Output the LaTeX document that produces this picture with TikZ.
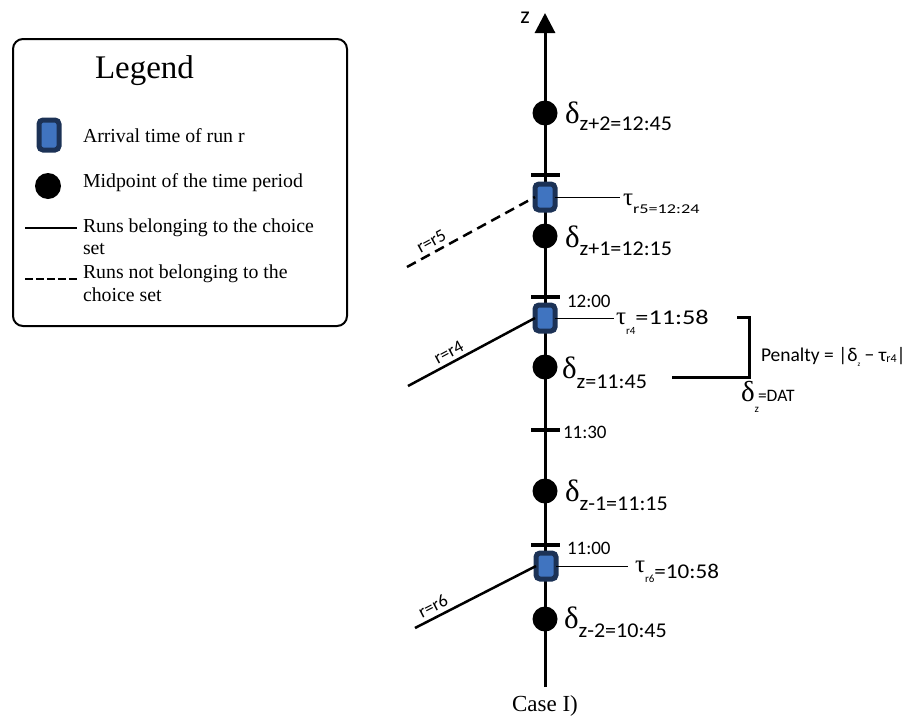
\documentclass[tikz,border=0pt]{standalone}
\usepackage{fontspec}
\setmainfont{Liberation Serif}
\setsansfont{Carlito}
\usetikzlibrary{arrows.meta}

\definecolor{runnavy}{RGB}{28,50,86}
\definecolor{runblue}{RGB}{64,116,192}

\newcommand\fsz[1]{\fontsize{#1}{#1}\selectfont}
\newcommand\bigdelta{{\rmfamily\fsz{31}δ}}
\newcommand\bigtau{{\rmfamily\fsz{25}τ}}
\newcommand\hx[2]{\scalebox{#1}[1]{#2}}

\begin{document}
\begin{tikzpicture}[x=1pt,y=-1pt,
  every node/.style={inner sep=0pt, outer sep=0pt},
  middot/.style={circle, fill=black, minimum size=25pt},
  runbox/.style={draw=runnavy, fill=runblue, line width=5pt, rounded corners=4pt,
                 minimum width=20pt, minimum height=26pt},
  tickbar/.style={fill=black, minimum width=29pt, minimum height=4pt},
  axisline/.style={line width=3pt},
  runline/.style={line width=2.5pt},
  tauline/.style={line width=1pt},
  lbl/.style={font=\sffamily, anchor=base west},
  runlbl/.style={font=\sffamily\fsz{18}, sloped, above=5pt},
  legtext/.style={font=\fsz{19.8}, anchor=base west},
]
\useasboundingbox (0,0) rectangle (910,718);

% ---------- legend ----------
\node[draw, line width=2pt, rounded corners=10pt, minimum width=334pt,
      minimum height=287pt] (legend) at (180,182.5) {};
\node[anchor=base west, font=\fsz{33}] (legtitle) at (95,78) {Legend};
\node[runbox, minimum height=30pt] (legbox) at (49,135) {};
\node[legtext] (legarr) at (83,142) {Arrival time of run r};
\node[middot, minimum size=26pt] (legdot) at (48,186) {};
\node[legtext] (legmid) at (83,187) {Midpoint of the time period};
\coordinate (lsA) at (25,228);
\coordinate (lsB) at (77,228);
\draw[runline] (lsA) -- (lsB);
\node[legtext] (legin1) at (83,232) {Runs belonging to the choice};
\node[legtext] (legin2) at (83,254) {set};
\coordinate (ldA) at (25,279);
\coordinate (ldB) at (77,279);
\draw[runline, dash pattern=on 8pt off 3pt] (ldA) -- (ldB);
\node[legtext] (legout1) at (83,278) {Runs not belonging to the};
\node[legtext] (legout2) at (83,301) {choice set};

% ---------- time axis ----------
\coordinate (axbot) at (545,687);
\coordinate (axtop) at (545,13);
\draw[axisline, -{Triangle[width=20pt,length=20pt]}] (axbot) -- (axtop);
\node[font=\sffamily\fsz{24}] (zlab) at (525,18) {z};

% period boundaries
\node[tickbar] (t1) at (545,175) {};
\node[tickbar] (t2) at (545,297) {};
\node[tickbar] (t3) at (545,430) {};
\node[tickbar] (t4) at (545,545) {};
\node[lbl, font=\sffamily\fsz{19}] (l1200) at (567,307) {12:00};
\node[lbl, font=\sffamily\fsz{19}] (l1130) at (563,438) {11:30};
\node[lbl, font=\sffamily\fsz{19}] (l1100) at (567,554) {11:00};

% midpoints of the periods
\node[middot] (d2) at (545,113) {};
\node[middot] (d1) at (545,236) {};
\node[middot] (d0) at (545,367) {};
\node[middot] (dm1) at (545,491) {};
\node[middot] (dm2) at (545,619) {};
\node[lbl] (ld2) at (565,123) {\bigdelta\raisebox{-7pt}{\hx{1.05}{\fsz{21}z+2=12:45}}};
\node[lbl] (ld1) at (565,247) {\bigdelta\raisebox{-8pt}{\hx{1.05}{\fsz{21}z+1=12:15}}};
\node[lbl] (ld0) at (562,378) {\bigdelta\raisebox{-10pt}{\hx{1.05}{\fsz{21}z=11:45}}};
\node[lbl] (ldm1) at (565,501) {\bigdelta\raisebox{-9pt}{\hx{1.05}{\fsz{21}z-1=11:15}}};
\node[lbl] (ldm2) at (564,628) {\bigdelta\raisebox{-9pt}{\hx{1.05}{\fsz{21}z-2=10:45}}};

% arrival times of the runs
\node[runbox] (b5) at (545,197) {};
\node[runbox] (b4) at (545,318) {};
\node[runbox] (b6) at (546,566) {};

\node[lbl] (lt5) at (623,205) {\bigtau\raisebox{-8pt}{\hx{1.35}{\fsz{13.5}r5=12:24}}};
\node[lbl] (lt4) at (616,324) {\bigtau\raisebox{-10pt}{\fsz{11}r4}\hx{1.25}{\fsz{21}=11:58}};
\node[lbl] (lt6) at (635,572) {\bigtau\raisebox{-10pt}{\fsz{11}r6}\raisebox{-6pt}{\hx{1.1}{\fsz{21}=10:58}}};

\coordinate (e5) at (620,197);
\coordinate (e4) at (614,318);
\coordinate (e6) at (628,566);
\draw[tauline] (b5.east) -- (e5);
\draw[tauline] (b4.east) -- (e4);
\draw[tauline] (b6.east) -- (e6);

% runs
\coordinate (r5end) at (407,267);
\coordinate (r4end) at (408,386);
\coordinate (r6end) at (415,628);
\draw[runline, dash pattern=on 10pt off 6pt] (r5end) -- (b5.west)
  node[runlbl, pos=0.23] (lr5) {r=r5};
\draw[runline] (r4end) -- (b4.west)
  node[runlbl, pos=0.36] (lr4) {r=r4};
\draw[runline] (r6end) -- (b6.west)
  node[runlbl, pos=0.19] (lr6) {r=r6};

% penalty bracket
\coordinate (brA) at (737,317);
\coordinate (brB) at (749,377);
\coordinate (brC) at (672,377);
\draw[line width=3pt] (brA) -| (brB) -- (brC);
\node[lbl, font=\sffamily\fsz{19.5}] (pen) at (761,361)
  {Penalty = |δ\raisebox{-5pt}{\fsz{7}z} − τ\raisebox{-1pt}{\fsz{12}r4}|};
\node[lbl] (dat) at (741,401)
  {{\rmfamily\fsz{29}δ}\raisebox{-11pt}{\fsz{11}z}\hspace{-1pt}{\fsz{17.5}=DAT}};

\node[anchor=base, font=\fsz{23}] (case) at (545,711) {Case I)};
\end{tikzpicture}
\end{document}
